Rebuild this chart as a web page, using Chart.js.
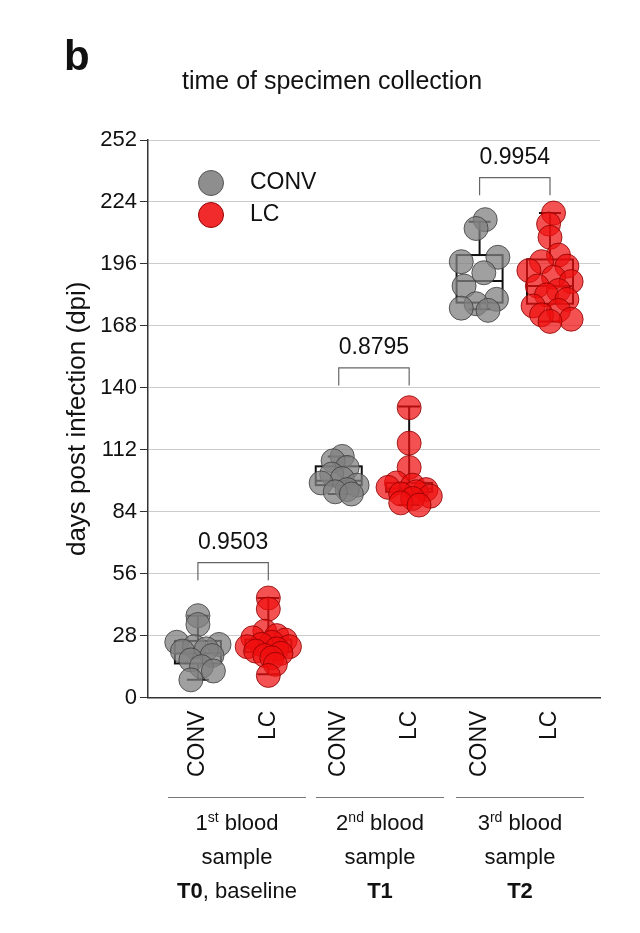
<!DOCTYPE html>
<html lang="en">
<head>
<meta charset="UTF-8">
<title>days post infection</title>
<script src="https://cdn.jsdelivr.net/npm/chart.js"></script>
<style>
  body { margin: 0; background: #fff; font-family: Arial, "Liberation Sans", sans-serif; }
  #wrap { position: relative; width: 640px; height: 933px; }
  .t { position: absolute; color: #111; }
  .grp { position: absolute; text-align: center; font-size: 22px; line-height: 34px; color: #111; }
  .grp .ln { border-top: 1.5px solid #777; margin: 0 6px 2px; }
  .dot { display: inline-block; width: 24px; height: 24px; border-radius: 50%; vertical-align: middle; margin-right: 26px; }
</style>
</head>
<body>
<div id="wrap">
  <canvas id="c" width="640" height="933"></canvas>
  <div class="t" style="left:64px;top:32px;font-size:42px;font-weight:bold;">b</div>
  <div class="t" style="left:182px;top:66px;font-size:25px;">time of specimen collection</div>
  <div class="t" style="left:198px;top:168px;font-size:23px;"><span class="dot" style="background:rgba(130,130,130,.9);border:1px solid #555"></span>CONV</div>
  <div class="t" style="left:198px;top:200px;font-size:23px;"><span class="dot" style="background:rgba(240,20,20,.9);border:1px solid #900"></span>LC</div>
  <div class="grp" style="left:162px;top:797px;width:150px;"><div class="ln"></div>1<sup style="font-size:14px">st</sup> blood<br>sample<br><b>T0</b>, baseline</div>
  <div class="grp" style="left:310px;top:797px;width:140px;"><div class="ln"></div>2<sup style="font-size:14px">nd</sup> blood<br>sample<br><b>T1</b></div>
  <div class="grp" style="left:450px;top:797px;width:140px;"><div class="ln"></div>3<sup style="font-size:14px">rd</sup> blood<br>sample<br><b>T2</b></div>
</div>
<script>
const categories = ['CONV', 'LC', 'CONV', 'LC', 'CONV', 'LC'];
const tickLabels = [0, 28, 56, 84, 112, 140, 168, 196, 224, 252];

const t0Conv = [37, 33, 25, 24, 23, 22, 21, 19, 17, 14, 12, 8];
const t0ConvJit = [0, 0, -0.3, 0.3, -0.05, 0.12, -0.22, 0.2, -0.1, 0.05, 0.22, -0.1];
const t0Lc = [45, 40, 30, 28, 27, 26, 25, 24, 23, 23, 22, 21, 20, 19, 18, 15, 10];
const t0LcJit = [0, 0, -0.05, 0.12, -0.22, 0.24, 0.05, -0.1, 0.3, -0.3, 0.12, -0.18, 0.18, -0.05, 0.05, 0.1, 0];
const t1Conv = [109, 107, 104, 101, 99, 97, 96, 94, 93, 92];
const t1ConvJit = [0.05, -0.08, 0.12, -0.1, 0.05, -0.25, 0.26, 0.12, -0.05, 0.18];
const t1Lc = [131, 115, 104, 97, 96, 95, 94, 93, 92, 91, 90, 88, 87];
const t1LcJit = [0, 0, 0, -0.18, 0.05, -0.3, 0.24, 0.1, -0.12, 0.3, 0.05, -0.12, 0.14];
const t2Conv = [216, 212, 199, 197, 192, 186, 180, 178, 176, 175];
const t2ConvJit = [0.08, -0.05, 0.26, -0.26, 0.06, -0.22, 0.24, -0.05, -0.26, 0.12];
const t2Lc = [219, 214, 208, 200, 197, 195, 193, 190, 188, 186, 184, 182, 180, 177, 175, 173, 171, 170];
const t2LcJit = [0.05, -0.02, 0, 0.12, -0.12, 0.24, -0.3, 0.05, 0.3, -0.18, 0.12, -0.05, 0.24, -0.24, 0.12, -0.12, 0.3, 0];

// box stats per category: [min, q1, median, q3, max]
const boxStats = [
  [8, 15.4, 20, 25.6, 37],
  [10.5, 20.6, 23, 26.2, 45],
  [92, 96, 98, 104.5, 109],
  [87, 93, 94.5, 97, 131.5],
  [175.5, 178.5, 188.3, 200, 215],
  [170, 178, 186, 198, 219]
];
const pValues = ['0.9503', '0.8795', '0.9954'];
const bracketY = [61, 149, 235];

const groups = [[t0Conv, t0ConvJit], [t0Lc, t0LcJit], [t1Conv, t1ConvJit], [t1Lc, t1LcJit], [t2Conv, t2ConvJit], [t2Lc, t2LcJit]];
const grey = { bg: 'rgba(128,128,128,0.75)', bd: 'rgba(60,60,60,0.8)' };
const red = { bg: 'rgba(240,15,15,0.72)', bd: 'rgba(140,0,0,0.8)' };

const datasets = groups.map(([vals, jit], i) => {
  const col = i % 2 === 0 ? grey : red;
  return {
    data: vals.map((v, j) => ({ x: i + 1 + jit[j], y: v })),
    backgroundColor: col.bg, borderColor: col.bd, borderWidth: 1, pointRadius: 12
  };
});

const boxPlugin = {
  id: 'boxes',
  beforeDatasetsDraw(chart) {
    const { ctx, scales: { x, y } } = chart;
    ctx.save();
    ctx.strokeStyle = '#111'; ctx.lineWidth = 2;
    boxStats.forEach((s, i) => {
      const cx = x.getPixelForValue(i + 1);
      const w = 23, cap = 11;
      const [mn, q1, md, q3, mx] = s.map(v => y.getPixelForValue(v));
      ctx.beginPath();
      ctx.moveTo(cx, mx); ctx.lineTo(cx, q3);
      ctx.moveTo(cx, q1); ctx.lineTo(cx, mn);
      ctx.moveTo(cx - cap, mx); ctx.lineTo(cx + cap, mx);
      ctx.moveTo(cx - cap, mn); ctx.lineTo(cx + cap, mn);
      ctx.moveTo(cx - w, md); ctx.lineTo(cx + w, md);
      ctx.stroke();
      ctx.strokeRect(cx - w, q3, 2 * w, q1 - q3);
    });
    ctx.restore();
  },
  afterDatasetsDraw(chart) {
    const { ctx, scales: { x, y } } = chart;
    ctx.save();
    ctx.strokeStyle = '#666'; ctx.lineWidth = 1.2;
    ctx.fillStyle = '#111'; ctx.font = '23px Arial, "Liberation Sans"'; ctx.textAlign = 'center';
    pValues.forEach((p, i) => {
      const x1 = x.getPixelForValue(2 * i + 1), x2 = x.getPixelForValue(2 * i + 2);
      const yt = y.getPixelForValue(bracketY[i]), yb = y.getPixelForValue(bracketY[i] - 8);
      ctx.beginPath();
      ctx.moveTo(x1, yb); ctx.lineTo(x1, yt); ctx.lineTo(x2, yt); ctx.lineTo(x2, yb);
      ctx.stroke();
      ctx.fillText(p, (x1 + x2) / 2, yt - 14);
    });
    ctx.restore();
  }
};

new Chart(document.getElementById('c'), {
  type: 'scatter',
  data: { datasets },
  plugins: [boxPlugin],
  options: {
    responsive: false, animation: false,
    layout: { padding: { left: 58, right: 40, top: 140, bottom: 153 } },
    plugins: { legend: { display: false }, tooltip: { enabled: false } },
    scales: {
      x: {
        type: 'linear', min: 0.29, max: 6.71,
        afterBuildTicks: axis => { axis.ticks = categories.map((_, i) => ({ value: i + 1 })); },
        ticks: {
          callback: v => categories[Math.round(v) - 1],
          maxRotation: 90, minRotation: 90, autoSkip: false,
          color: '#111', font: { size: 23, family: 'Arial, "Liberation Sans"' }
        },
        grid: { display: false, drawTicks: true, tickLength: 10 },
        border: { color: '#333', width: 1.5 }
      },
      y: {
        min: 0, max: 252,
        afterBuildTicks: axis => { axis.ticks = tickLabels.map(v => ({ value: v })); },
        ticks: { color: '#111', font: { size: 22, family: 'Arial, "Liberation Sans"' } },
        grid: { color: '#ccc', borderDash: [2, 2], tickColor: '#333', tickLength: 8 },
        border: { color: '#333', width: 1.5 },
        title: { display: true, text: 'days post infection (dpi)', color: '#111', font: { size: 26, family: 'Arial, "Liberation Sans"' } }
      }
    }
  }
});
</script>
</body>
</html>
